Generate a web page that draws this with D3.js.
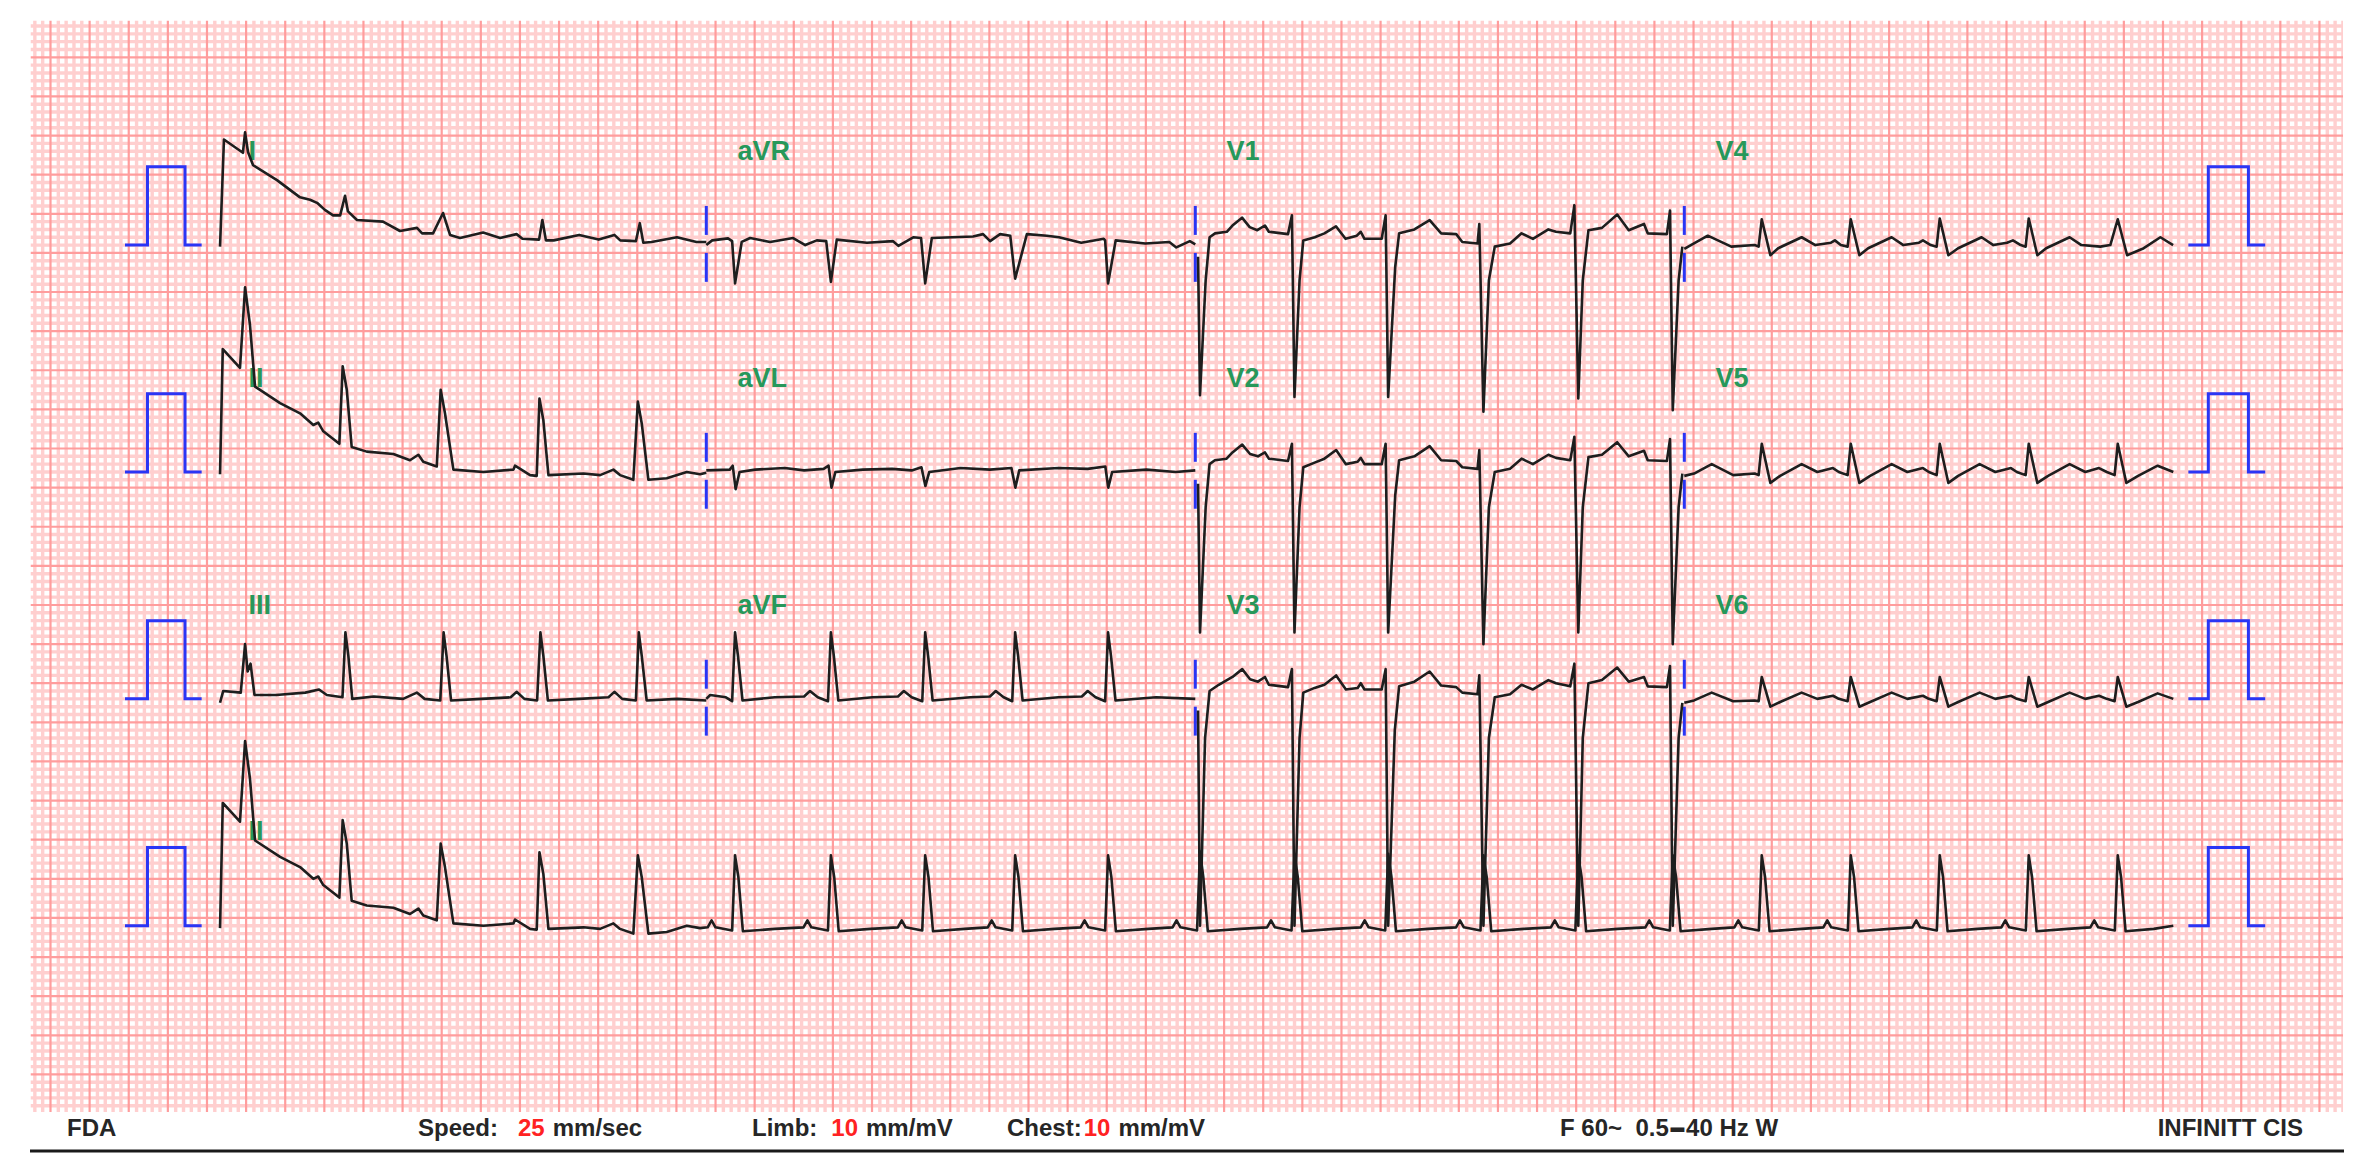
<!DOCTYPE html>
<html>
<head>
<meta charset="utf-8">
<script src="https://cdn.jsdelivr.net/npm/d3@7"></script>
<style>
  body { margin: 0; background: #fff; }
  svg { display: block; }
</style>
</head>
<body>
<script>
'use strict';

// ---- data: [time (s), amplitude (mV)] ----
const leadI = [[0.014,-0.02],[0.034,1.35],[0.131,1.18],[0.142,1.44],[0.157,1.19],[0.183,1.02],[0.305,0.83],[0.423,0.61],[0.474,0.58],[0.51,0.54],[0.55,0.45],[0.592,0.38],[0.628,0.38],[0.653,0.63],[0.668,0.43],[0.714,0.32],[0.847,0.30],[0.934,0.18],[1.021,0.22],[1.047,0.15],[1.103,0.15],[1.154,0.41],[1.19,0.13],[1.241,0.09],[1.359,0.16],[1.446,0.09],[1.53,0.14],[1.56,0.08],[1.645,0.07],[1.662,0.32],[1.68,0.06],[1.72,0.06],[1.85,0.13],[1.95,0.07],[2.03,0.13],[2.06,0.06],[2.14,0.05],[2.16,0.28],[2.178,0.03],[2.22,0.04],[2.35,0.1],[2.45,0.04],[2.5,0.04]]

const leadAVR = [[2.5,0],[2.53,0.06],[2.611,0.086],[2.632,0.05],[2.647,-0.49],[2.681,0.04],[2.724,0.09],[2.826,0.04],[2.944,0.09],[3.006,0],[3.065,0.06],[3.113,0.05],[3.137,-0.47],[3.167,0.07],[3.321,0.03],[3.455,0.05],[3.482,-0.01],[3.558,0.1],[3.598,0.09],[3.619,-0.49],[3.653,0.09],[3.864,0.11],[3.915,0.14],[3.951,0.05],[4.002,0.14],[4.054,0.12],[4.079,-0.43],[4.139,0.14],[4.241,0.12],[4.303,0.1],[4.417,0.03],[4.532,0.08],[4.539,0.06],[4.554,-0.49],[4.593,0.06],[4.744,0.02],[4.867,0.04],[4.903,-0.03],[4.972,0.05],[5.0,0.01]]

const leadV1 = [[5.014,-0.15],[5.024,-1.92],[5.053,-0.45],[5.073,0.10],[5.101,0.15],[5.161,0.17],[5.19,0.25],[5.239,0.35],[5.278,0.23],[5.317,0.19],[5.356,0.25],[5.376,0.17],[5.474,0.14],[5.494,0.38],[5.507,-1.94],[5.533,-0.45],[5.552,0.06],[5.611,0.10],[5.66,0.15],[5.719,0.24],[5.768,0.08],[5.826,0.12],[5.846,0.17],[5.865,0.08],[5.953,0.08],[5.973,0.38],[5.986,-1.94],[6.022,-0.28],[6.042,0.15],[6.12,0.20],[6.198,0.32],[6.257,0.15],[6.334,0.14],[6.365,0.04],[6.443,0.02],[6.452,0.27],[6.473,-2.13],[6.501,-0.45],[6.531,-0.02],[6.609,0.02],[6.668,0.15],[6.726,0.08],[6.805,0.20],[6.844,0.17],[6.917,0.15],[6.938,0.51],[6.958,-1.96],[6.981,-0.45],[7.01,0.19],[7.079,0.22],[7.157,0.39],[7.216,0.19],[7.294,0.27],[7.313,0.15],[7.411,0.14],[7.427,0.44],[7.441,-2.11],[7.471,-0.45],[7.49,-0.02]]

const leadV4 = [[7.5,-0.05],[7.52,-0.02],[7.62,0.12],[7.74,-0.02],[7.86,0.0],[7.88,-0.02],[7.896,0.33],[7.94,-0.13],[7.98,-0.04],[8.1,0.1],[8.17,0.0],[8.25,0.03],[8.27,0.06],[8.3,0.0],[8.335,-0.02],[8.351,0.33],[8.395,-0.13],[8.44,-0.04],[8.56,0.1],[8.62,0.0],[8.7,0.03],[8.72,0.06],[8.76,0.0],[8.79,-0.02],[8.806,0.34],[8.85,-0.13],[8.9,-0.04],[9.02,0.1],[9.08,0.0],[9.15,0.03],[9.18,0.06],[9.22,0.0],[9.245,-0.02],[9.261,0.34],[9.305,-0.13],[9.35,-0.04],[9.47,0.1],[9.53,0.0],[9.627,-0.02],[9.678,0.0],[9.716,0.33],[9.764,-0.13],[9.849,-0.04],[9.934,0.1],[9.999,0.0]]

const leadII = [[0.014,-0.03],[0.028,1.57],[0.116,1.33],[0.142,2.36],[0.167,1.88],[0.193,1.09],[0.321,0.88],[0.423,0.75],[0.491,0.6],[0.516,0.63],[0.542,0.52],[0.624,0.36],[0.641,1.35],[0.662,1.05],[0.687,0.32],[0.764,0.26],[0.9,0.23],[0.985,0.15],[1.028,0.22],[1.053,0.13],[1.122,0.07],[1.142,1.05],[1.164,0.75],[1.207,0.03],[1.36,0],[1.514,0.03],[1.522,0.08],[1.599,-0.04],[1.633,-0.05],[1.647,0.94],[1.667,0.66],[1.693,-0.04],[1.872,-0.02],[1.957,-0.04],[2.025,0.03],[2.059,-0.04],[2.127,-0.1],[2.15,0.9],[2.17,0.62],[2.204,-0.1],[2.298,-0.08],[2.4,0],[2.468,-0.03],[2.5,-0.01]]

const leadAVL = [[2.5,0.02],[2.62,0.03],[2.635,0.08],[2.65,-0.22],[2.67,0.0],[2.75,0.03],[2.9,0.05],[3.0,0.02],[3.1,0.04],[3.125,0.08],[3.14,-0.2],[3.16,0.0],[3.3,0.03],[3.45,0.04],[3.55,0.02],[3.6,0.06],[3.62,-0.18],[3.64,0.0],[3.8,0.05],[3.95,0.03],[4.06,0.05],[4.08,-0.2],[4.1,0.02],[4.3,0.05],[4.45,0.04],[4.54,0.07],[4.555,-0.2],[4.575,0.0],[4.75,0.03],[4.9,0.0],[5.0,0.02]]

const leadV2 = [[5.014,-0.15],[5.024,-2.05],[5.053,-0.45],[5.073,0.1],[5.1,0.15],[5.16,0.17],[5.19,0.25],[5.24,0.35],[5.28,0.23],[5.32,0.2],[5.356,0.25],[5.376,0.17],[5.474,0.14],[5.494,0.36],[5.507,-2.05],[5.533,-0.45],[5.552,0.06],[5.61,0.12],[5.66,0.17],[5.72,0.28],[5.77,0.1],[5.83,0.13],[5.846,0.18],[5.865,0.1],[5.953,0.1],[5.973,0.36],[5.986,-2.05],[6.022,-0.3],[6.042,0.15],[6.12,0.2],[6.198,0.33],[6.257,0.15],[6.334,0.14],[6.365,0.06],[6.443,0.04],[6.452,0.28],[6.473,-2.2],[6.501,-0.45],[6.531,0.0],[6.609,0.04],[6.668,0.17],[6.726,0.1],[6.805,0.22],[6.844,0.18],[6.917,0.15],[6.938,0.45],[6.958,-2.05],[6.981,-0.45],[7.01,0.19],[7.079,0.22],[7.157,0.38],[7.216,0.2],[7.294,0.27],[7.313,0.15],[7.411,0.14],[7.427,0.42],[7.441,-2.2],[7.471,-0.45],[7.49,-0.02]]

const leadV5 = [[7.5,-0.05],[7.55,-0.02],[7.64,0.1],[7.75,-0.04],[7.86,-0.02],[7.88,-0.04],[7.896,0.36],[7.94,-0.14],[7.99,-0.05],[8.1,0.1],[8.18,0.0],[8.26,0.05],[8.29,0.0],[8.335,-0.04],[8.351,0.36],[8.395,-0.14],[8.45,-0.05],[8.56,0.1],[8.64,0.0],[8.72,0.05],[8.75,0.0],[8.79,-0.04],[8.806,0.36],[8.85,-0.14],[8.9,-0.05],[9.01,0.1],[9.09,0.0],[9.17,0.05],[9.2,0.0],[9.245,-0.04],[9.261,0.36],[9.305,-0.14],[9.36,-0.05],[9.47,0.1],[9.55,0.0],[9.62,0.05],[9.66,0.0],[9.7,-0.04],[9.716,0.36],[9.76,-0.14],[9.82,-0.05],[9.92,0.08],[10.0,0.0]]

const leadIII = [[0.014,-0.05],[0.03,0.1],[0.12,0.08],[0.142,0.7],[0.155,0.35],[0.17,0.45],[0.19,0.05],[0.3,0.05],[0.45,0.08],[0.52,0.12],[0.56,0.05],[0.64,0.02],[0.655,0.85],[0.67,0.55],[0.69,0.0],[0.8,0.03],[0.95,0.0],[1.02,0.08],[1.06,0.0],[1.14,-0.02],[1.157,0.85],[1.172,0.55],[1.195,-0.02],[1.35,0.0],[1.5,0.02],[1.53,0.09],[1.57,0.0],[1.635,-0.02],[1.652,0.85],[1.667,0.55],[1.69,-0.02],[1.85,0.0],[2.0,0.02],[2.03,0.09],[2.07,0.0],[2.14,-0.02],[2.155,0.85],[2.17,0.55],[2.195,-0.02],[2.35,0.0],[2.5,-0.02]]

const leadAVF = [[2.5,0.0],[2.52,0.05],[2.6,0.02],[2.632,-0.03],[2.647,0.85],[2.662,0.55],[2.685,-0.02],[2.85,0.02],[3.0,0.03],[3.03,0.1],[3.07,0.02],[3.122,-0.03],[3.137,0.85],[3.152,0.55],[3.175,-0.02],[3.35,0.02],[3.48,0.03],[3.51,0.1],[3.55,0.02],[3.604,-0.03],[3.619,0.85],[3.634,0.55],[3.657,-0.02],[3.85,0.02],[3.95,0.03],[3.98,0.1],[4.02,0.02],[4.064,-0.03],[4.079,0.85],[4.094,0.55],[4.117,-0.02],[4.3,0.02],[4.42,0.03],[4.45,0.1],[4.49,0.02],[4.539,-0.03],[4.554,0.85],[4.569,0.55],[4.592,-0.02],[4.8,0.02],[5.0,0.0]]

const leadV3 = [[5.014,-0.15],[5.024,-2.9],[5.05,-0.5],[5.073,0.1],[5.12,0.18],[5.19,0.28],[5.24,0.38],[5.28,0.25],[5.32,0.22],[5.356,0.28],[5.376,0.18],[5.474,0.15],[5.494,0.38],[5.507,-2.9],[5.533,-0.5],[5.552,0.08],[5.61,0.14],[5.66,0.18],[5.72,0.3],[5.77,0.12],[5.83,0.14],[5.846,0.2],[5.865,0.12],[5.953,0.12],[5.973,0.38],[5.986,-2.9],[6.02,-0.4],[6.042,0.16],[6.12,0.22],[6.198,0.35],[6.257,0.17],[6.334,0.15],[6.365,0.08],[6.443,0.06],[6.452,0.3],[6.473,-2.9],[6.501,-0.5],[6.531,0.02],[6.609,0.06],[6.668,0.18],[6.726,0.12],[6.805,0.24],[6.844,0.2],[6.917,0.16],[6.938,0.45],[6.958,-2.9],[6.981,-0.5],[7.01,0.2],[7.079,0.24],[7.157,0.4],[7.216,0.22],[7.294,0.28],[7.313,0.16],[7.411,0.15],[7.427,0.42],[7.441,-2.9],[7.471,-0.5],[7.49,-0.05]]

const leadV6 = [[7.5,-0.05],[7.55,-0.02],[7.64,0.08],[7.75,-0.03],[7.86,-0.02],[7.88,-0.03],[7.896,0.28],[7.94,-0.1],[7.99,-0.04],[8.1,0.08],[8.18,0.0],[8.26,0.04],[8.29,0.0],[8.335,-0.03],[8.351,0.28],[8.395,-0.1],[8.45,-0.04],[8.56,0.08],[8.64,0.0],[8.72,0.04],[8.75,0.0],[8.79,-0.03],[8.806,0.28],[8.85,-0.1],[8.9,-0.04],[9.01,0.08],[9.09,0.0],[9.17,0.04],[9.2,0.0],[9.245,-0.03],[9.261,0.28],[9.305,-0.1],[9.36,-0.04],[9.47,0.08],[9.55,0.0],[9.62,0.04],[9.66,0.0],[9.7,-0.03],[9.716,0.28],[9.76,-0.1],[9.82,-0.04],[9.92,0.07],[10.0,0.0]]

const rhythmII = [[0.014,-0.03],[0.028,1.57],[0.116,1.33],[0.142,2.36],[0.167,1.88],[0.193,1.09],[0.321,0.88],[0.423,0.75],[0.491,0.6],[0.516,0.63],[0.542,0.52],[0.624,0.36],[0.641,1.35],[0.662,1.05],[0.687,0.32],[0.764,0.26],[0.9,0.23],[0.985,0.15],[1.028,0.22],[1.053,0.13],[1.122,0.07],[1.142,1.05],[1.164,0.75],[1.207,0.03],[1.36,0],[1.514,0.03],[1.522,0.08],[1.599,-0.04],[1.633,-0.05],[1.647,0.94],[1.667,0.66],[1.693,-0.04],[1.872,-0.02],[1.957,-0.04],[2.025,0.03],[2.059,-0.04],[2.127,-0.1],[2.15,0.9],[2.17,0.62],[2.204,-0.1],[2.298,-0.08],[2.4,0],[2.468,-0.03],
  [2.507,-0.02],[2.527,0.07],[2.547,-0.02],[2.632,-0.06],[2.647,0.9],[2.664,0.62],[2.687,-0.07],[2.85,-0.04],
  [2.997,-0.02],[3.017,0.07],[3.037,-0.02],[3.122,-0.06],[3.137,0.9],[3.154,0.62],[3.177,-0.07],[3.34,-0.04],
  [3.479,-0.02],[3.499,0.07],[3.519,-0.02],[3.604,-0.06],[3.619,0.9],[3.636,0.62],[3.659,-0.07],[3.82,-0.04],
  [3.939,-0.02],[3.959,0.07],[3.979,-0.02],[4.064,-0.06],[4.079,0.9],[4.096,0.62],[4.119,-0.07],[4.28,-0.04],
  [4.414,-0.02],[4.434,0.07],[4.454,-0.02],[4.539,-0.06],[4.554,0.9],[4.571,0.62],[4.594,-0.07],[4.76,-0.04],
  [4.884,-0.02],[4.904,0.07],[4.924,-0.02],[5.009,-0.06],[5.024,0.95],[5.041,0.62],[5.064,-0.07],[5.23,-0.04],
  [5.367,-0.02],[5.387,0.07],[5.407,-0.02],[5.492,-0.06],[5.507,0.92],[5.524,0.62],[5.547,-0.07],[5.71,-0.04],
  [5.846,-0.02],[5.866,0.07],[5.886,-0.02],[5.971,-0.06],[5.986,0.92],[6.003,0.62],[6.026,-0.07],[6.19,-0.04],
  [6.333,-0.02],[6.353,0.07],[6.373,-0.02],[6.458,-0.06],[6.473,0.9],[6.49,0.62],[6.513,-0.07],[6.68,-0.04],
  [6.818,-0.02],[6.838,0.07],[6.858,-0.02],[6.943,-0.06],[6.958,0.9],[6.975,0.62],[6.998,-0.07],[7.16,-0.04],
  [7.301,-0.02],[7.321,0.07],[7.341,-0.02],[7.426,-0.06],[7.441,0.9],[7.458,0.62],[7.481,-0.07],[7.64,-0.04],
  [7.756,-0.02],[7.776,0.07],[7.796,-0.02],[7.881,-0.06],[7.896,0.9],[7.913,0.62],[7.936,-0.07],[8.1,-0.04],
  [8.211,-0.02],[8.231,0.07],[8.251,-0.02],[8.336,-0.06],[8.351,0.9],[8.368,0.62],[8.391,-0.07],[8.55,-0.04],
  [8.666,-0.02],[8.686,0.07],[8.706,-0.02],[8.791,-0.06],[8.806,0.9],[8.823,0.62],[8.846,-0.07],[9.0,-0.04],
  [9.121,-0.02],[9.141,0.07],[9.161,-0.02],[9.246,-0.06],[9.261,0.9],[9.278,0.62],[9.301,-0.07],[9.46,-0.04],
  [9.576,-0.02],[9.596,0.07],[9.616,-0.02],[9.701,-0.06],[9.716,0.9],[9.733,0.62],[9.756,-0.07],[9.9,-0.04],[10.0,0.0]]

// 1 mV calibration pulses, before and after the strips
const calLeft = [[-0.472,0],[-0.357,0],[-0.357,1],[-0.165,1],[-0.165,0],[-0.08,0]]
const calRight = [[10.077,0],[10.179,0],[10.179,1],[10.384,1],[10.384,0],[10.47,0]]

const sectionStarts = [0, 2.5, 5.0, 7.5]
const sectionMarks = [2.5, 5.0, 7.5]

const rowLeads = [
  [leadI, leadAVR, leadV1, leadV4],
  [leadII, leadAVL, leadV2, leadV5],
  [leadIII, leadAVF, leadV3, leadV6],
  [rhythmII]
]
const rowLabels = [
  ['I', 'aVR', 'V1', 'V4'],
  ['II', 'aVL', 'V2', 'V5'],
  ['III', 'aVF', 'V3', 'V6'],
  ['II']
]

const footer = {
  left: 'FDA',
  speed: ['Speed:', '25', 'mm/sec'],
  limb: ['Limb:', '10', 'mm/mV'],
  chest: ['Chest:', '10', 'mm/mV'],
  filter: ['F 60~  0.5', '\u2013', '40 Hz W'],
  right: 'INFINITT CIS'
}

// ---- layout ----
const W = 2360, H = 1170
const mm = 7.824
const paper = { left: 30.5, top: 20.5, right: 2343, bottom: 1112 }

// paper millimetre scales (0 = first heavy line)
const mmX = d3.scaleLinear().domain([0, 1]).range([50.5, 50.5 + mm])
const mmY = d3.scaleLinear().domain([0, 1]).range([57.3, 57.3 + mm])

// 25 mm/s, 10 s across
const x = d3.scaleLinear().domain([0, 10]).range([217.3, 217.3 + 250 * mm])
// 10 mm/mV, baselines 29 mm apart
const rowBase = [24, 53, 82, 111].map(k => mmY(k))
const yRow = rowBase.map(b => d3.scaleLinear().domain([0, 1]).range([b, b - 10 * mm]))

const svg = d3.select('body').append('svg')
  .attr('width', W)
  .attr('height', H)

svg.append('rect').attr('width', W).attr('height', H).attr('fill', '#ffffff')

// ---- grid ----
svg.append('clipPath').attr('id', 'paper')
  .append('rect')
  .attr('x', paper.left).attr('y', paper.top)
  .attr('width', paper.right - paper.left).attr('height', paper.bottom - paper.top)

const grid = svg.append('g').attr('clip-path', 'url(#paper)')
const xs = d3.range(-3, 296)
const ys = d3.range(-5, 136)
const isMajor = k => ((k % 5) + 5) % 5 === 0

grid.selectAll('line.vmin').data(xs.filter(k => !isMajor(k))).enter().append('line')
  .attr('x1', k => mmX(k)).attr('x2', k => mmX(k))
  .attr('y1', paper.top).attr('y2', paper.bottom)
  .attr('stroke', '#ffcfcf').attr('stroke-width', 3.4)
grid.selectAll('line.hmin').data(ys.filter(k => !isMajor(k))).enter().append('line')
  .attr('y1', k => mmY(k)).attr('y2', k => mmY(k))
  .attr('x1', paper.left).attr('x2', paper.right)
  .attr('stroke', '#ffcfcf').attr('stroke-width', 3.4)
grid.selectAll('line.vmaj').data(xs.filter(isMajor)).enter().append('line')
  .attr('x1', k => mmX(k)).attr('x2', k => mmX(k))
  .attr('y1', paper.top).attr('y2', paper.bottom)
  .attr('stroke', '#ff9d9d').attr('stroke-width', 2.2)
grid.selectAll('line.hmaj').data(ys.filter(isMajor)).enter().append('line')
  .attr('y1', k => mmY(k)).attr('y2', k => mmY(k))
  .attr('x1', paper.left).attr('x2', paper.right)
  .attr('stroke', '#ff9d9d').attr('stroke-width', 2.2)

// ---- lead labels (under the traces) ----
rowLabels.forEach((labels, r) => {
  svg.selectAll(null).data(labels).enter().append('text')
    .attr('x', (d, i) => x(sectionStarts[i] + 0.16))
    .attr('y', yRow[r](1.09))
    .attr('fill', '#27985a')
    .style('font-family', '"Liberation Sans", Arial, sans-serif')
    .style('font-weight', 'bold')
    .style('font-size', '27px')
    .text(d => d)
})

// ---- calibration pulses and section markers ----
const blue = '#2a35f5'
rowBase.forEach((b, r) => {
  const line = d3.line().x(d => x(d[0])).y(d => yRow[r](d[1]))
  ;[calLeft, calRight].forEach(p => {
    svg.append('path').datum(p)
      .attr('d', line)
      .attr('fill', 'none').attr('stroke', blue).attr('stroke-width', 3)
  })
  if (r < 3) {
    sectionMarks.forEach(t => {
      ;[[0.5, 0.13], [-0.1, -0.47]].forEach(seg => {
        svg.append('line')
          .attr('x1', x(t)).attr('x2', x(t))
          .attr('y1', yRow[r](seg[0])).attr('y2', yRow[r](seg[1]))
          .attr('stroke', blue).attr('stroke-width', 3)
      })
    })
  }
})

// ---- traces ----
rowLeads.forEach((leads, r) => {
  const line = d3.line().x(d => x(d[0])).y(d => yRow[r](d[1]))
  leads.forEach(lead => {
    svg.append('path').datum(lead)
      .attr('d', line)
      .attr('fill', 'none')
      .attr('stroke', '#1e1e1e')
      .attr('stroke-width', 2.6)
      .attr('stroke-linejoin', 'round')
  })
})

// ---- footer ----
const foot = svg.append('g')
  .style('font-family', '"Liberation Sans", Arial, sans-serif')
  .style('font-weight', 'bold')
  .style('font-size', '24px')
  .attr('fill', '#262626')
const fy = 1136

foot.append('text').attr('x', 67).attr('y', fy).text(footer.left)

function pair(parts, x0, gap1, gap2) {
  const t = foot.append('text').attr('x', x0).attr('y', fy)
  t.append('tspan').text(parts[0])
  t.append('tspan').attr('dx', gap1).attr('fill', '#ff2222').text(parts[1])
  t.append('tspan').attr('dx', gap2).text(parts[2])
}
pair(footer.speed, 418, 20, 8)
pair(footer.limb, 752, 14, 8)
pair(footer.chest, 1007, 2, 8)

const ft = foot.append('text').attr('x', 1560).attr('y', fy).attr('xml:space', 'preserve')
ft.append('tspan').text(footer.filter[0])
ft.append('tspan').attr('dx', 2).attr('stroke', '#262626').attr('stroke-width', 2).text(footer.filter[1])
ft.append('tspan').attr('dx', 2).text(footer.filter[2])
foot.append('text').attr('x', 2303).attr('y', fy).attr('text-anchor', 'end').text(footer.right)

svg.append('line')
  .attr('x1', 30).attr('x2', 2344)
  .attr('y1', 1151).attr('y2', 1151)
  .attr('stroke', '#1a1a1a').attr('stroke-width', 3)
</script>
</body>
</html>
